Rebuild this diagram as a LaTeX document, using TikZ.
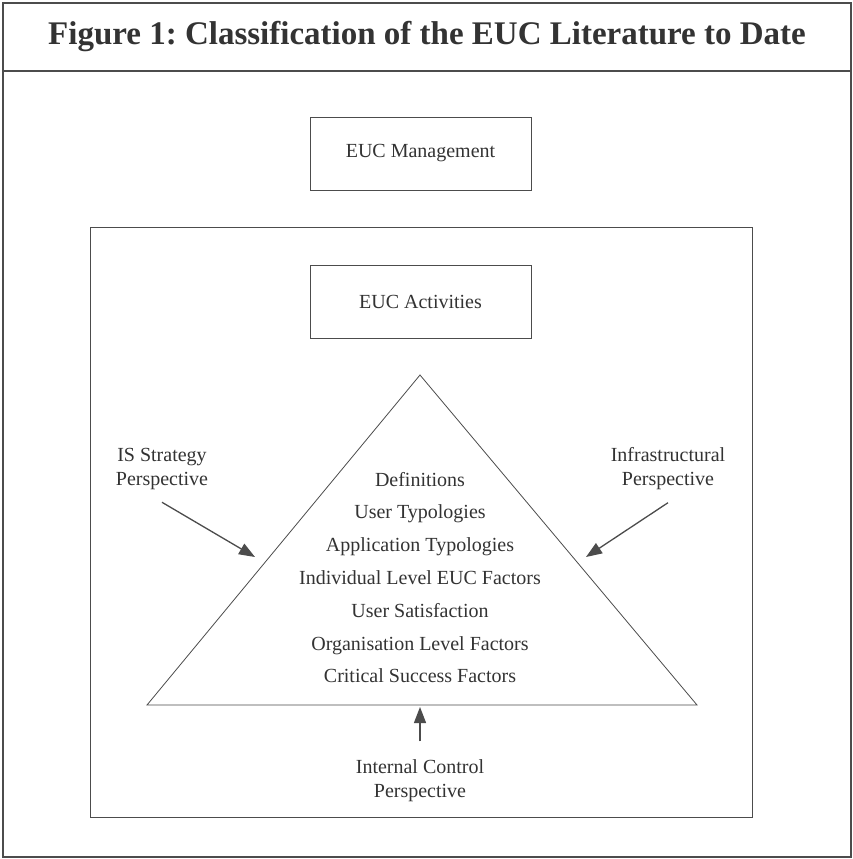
\documentclass[tikz,border=0pt]{standalone}
\usepackage{fontspec}
\setmainfont{Liberation Serif}
\usetikzlibrary{arrows.meta}
\definecolor{ink}{rgb}{0.2,0.2,0.2}
\definecolor{rule}{rgb}{0.3,0.3,0.3}

\begin{document}
\frenchspacing
\begin{tikzpicture}[x=1pt,y=-1pt,
  every node/.style={text=ink,font=\fontsize{20}{24}\selectfont},
  box/.style={draw=rule,line width=0.8pt,minimum width=221pt,minimum height=73pt},
  lit/.style={text height=14pt,text depth=4pt},
  persp/.style={align=center},
  arr/.style={draw=rule,line width=1.3pt,-{Triangle[length=16pt,width=12pt]}},
  node distance=32.8pt]
\useasboundingbox (0,0) rectangle (853,859);
\fill[white] (0,0) rectangle (853,859);
% frame and title
\draw[rule,line width=1.4pt] (3,3) rectangle (851,857);
\draw[rule,line width=1.4pt] (3,71) -- (851,71);
\node[font=\fontsize{33}{40}\selectfont\bfseries] (title) at (427,37) {Figure 1: Classification of the EUC Literature to Date};
% boxes
\node [box] (mgmt) at (420.5,153.5) {EUC Management};
\draw[rule,line width=0.8pt] (90,227) rectangle (752,817);
\node [box] (act) at (420.5,301.5) {EUC Activities};
% triangle
\coordinate (apex) at (420,375);
\coordinate (bl) at (147,705);
\coordinate (br) at (697,705);
\draw[rule,line width=0.8pt] (apex) -- (bl) -- (br) -- cycle;
\node [lit] (def) at (420,481) {Definitions};
\node [lit,below of=def] (ut) {User Typologies};
\node [lit,below of=ut] (at) {Application Typologies};
\node [lit,below of=at] (ilf) {Individual Level EUC Factors};
\node [lit,below of=ilf] (us) {User Satisfaction};
\node [lit,below of=us] (olf) {Organisation Level Factors};
\node [lit,below of=olf] (csf) {Critical Success Factors};
% perspectives
\node [persp] (isp) at (162,469) {IS Strategy\\Perspective};
\node [persp] (infp) at (668,469) {Infrastructural\\Perspective};
\node [persp] (icp) at (420,781) {Internal Control\\Perspective};
\coordinate (isto) at (255,557);
\coordinate (infto) at (586,557);
\coordinate (icto) at (420,707);
\draw [arr] ([yshift=-9pt]isp.south) -- (isto);
\draw [arr] ([yshift=-9pt]infp.south) -- (infto);
\draw [arr] ([yshift=15pt]icp.north) -- (icto);
\end{tikzpicture}
\end{document}
